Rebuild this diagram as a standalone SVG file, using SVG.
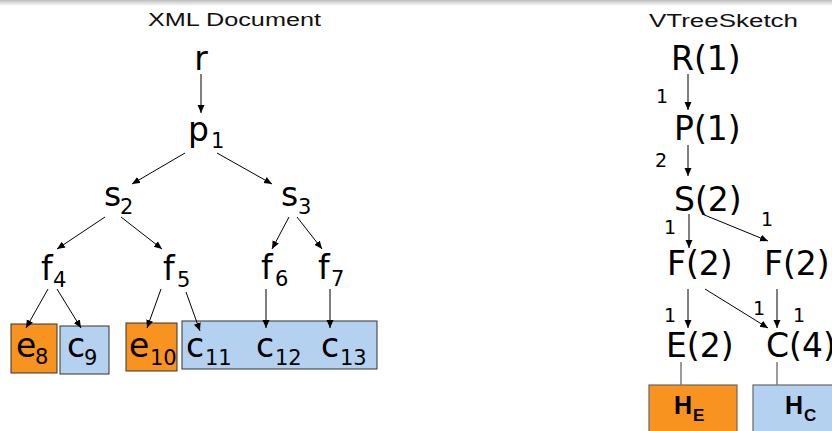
<svg xmlns="http://www.w3.org/2000/svg" width="832" height="431" viewBox="0 0 832 431">
<defs>
<linearGradient id="topShade" x1="0" y1="0" x2="0" y2="1">
<stop offset="0" stop-color="#bdbdbd"/>
<stop offset="1" stop-color="#ffffff"/>
</linearGradient>
<marker id="arr" markerUnits="userSpaceOnUse" markerWidth="9" markerHeight="8" refX="8" refY="3.5" orient="auto">
<path d="M0,0 L8,3.5 L0,7 z" fill="#000"/>
</marker>
</defs>
<style>
.title{font-family:"Liberation Sans",Arial,sans-serif;font-size:18px;fill:#111}
.n{font-family:"DejaVu Sans",Verdana,sans-serif;font-size:33px;fill:#000}
.s{font-family:"DejaVu Sans",Verdana,sans-serif;font-size:21px;fill:#000}
.lbl{font-family:"DejaVu Sans",Verdana,sans-serif;font-size:19px;fill:#000}
.h{font-family:"Liberation Sans",Arial,sans-serif;font-weight:bold;font-size:25px;fill:#000}
.hs{font-family:"Liberation Sans",Arial,sans-serif;font-weight:bold;font-size:17px;fill:#000}
.e{stroke:#000;stroke-width:1;fill:none;marker-end:url(#arr)}
.g{stroke:#7a7a7a;stroke-width:1.5;fill:none}
.or{fill:#f7931e;stroke:#333;stroke-width:1}
.bl{fill:#b4d2f0;stroke:#333;stroke-width:1}
.or2{fill:#f7931e;stroke:#666;stroke-width:1.2}
.bl2{fill:#b4d2f0;stroke:#666;stroke-width:1.2}
</style>
<rect x="0" y="0" width="832" height="431" fill="#fff"/>
<rect x="0" y="0" width="832" height="6" fill="url(#topShade)"/>

<text class="title" x="148" y="26" textLength="173" lengthAdjust="spacingAndGlyphs">XML Document</text>
<text class="title" x="649" y="27" textLength="149" lengthAdjust="spacingAndGlyphs">VTreeSketch</text>

<g id="r"><text class="n" x="201" y="70" text-anchor="middle">r</text></g>
<g id="p1"><text class="n" x="188" y="141">p</text><text class="s" x="211" y="148">1</text></g>
<g id="s2"><text class="n" x="104" y="206">s</text><text class="s" x="120" y="214">2</text></g>
<g id="s3"><text class="n" x="281" y="206">s</text><text class="s" x="298" y="214">3</text></g>
<g id="f4"><text class="n" x="41" y="280">f</text><text class="s" x="53" y="287">4</text></g>
<g id="f5"><text class="n" x="163" y="280">f</text><text class="s" x="177" y="287">5</text></g>
<g id="f6"><text class="n" x="261" y="279">f</text><text class="s" x="275" y="286">6</text></g>
<g id="f7"><text class="n" x="318" y="279">f</text><text class="s" x="331" y="286">7</text></g>

<g id="e8"><rect class="or" x="11" y="324" width="46" height="49"/><text class="n" x="16" y="357">e</text><text class="s" x="35" y="364">8</text></g>
<g id="c9"><rect class="bl" x="60" y="326" width="49" height="48"/><text class="n" x="67" y="357">c</text><text class="s" x="84" y="365">9</text></g>
<g id="e10"><rect class="or" x="126" y="323" width="51" height="48"/><text class="n" x="129" y="357">e</text><text class="s" x="150" y="365">10</text></g>
<g id="c11-13"><rect class="bl" x="182" y="321" width="195" height="48"/>
<text class="n" x="186" y="357">c</text><text class="s" x="205" y="365">11</text>
<text class="n" x="256" y="357">c</text><text class="s" x="275" y="365">12</text>
<text class="n" x="321" y="357">c</text><text class="s" x="340" y="365">13</text></g>

<g id="R"><text class="n" x="671" y="70">R(1)</text></g>
<g id="P"><text class="n" x="674" y="140">P(1)</text></g>
<g id="S"><text class="n" x="674" y="211">S(2)</text></g>
<g id="F1"><text class="n" x="667" y="275">F(2)</text></g>
<g id="F2"><text class="n" x="764" y="275">F(2)</text></g>
<g id="E"><text class="n" x="666" y="357">E(2)</text></g>
<g id="C"><text class="n" x="766" y="357">C(4)</text></g>
<g id="HE"><rect class="or2" x="649" y="385" width="88" height="60"/><text class="h" x="674" y="414">H</text><text class="hs" x="693" y="421">E</text></g>
<g id="HC"><rect class="bl2" x="753" y="385" width="90" height="60"/><text class="h" x="785" y="414">H</text><text class="hs" x="804" y="421">C</text></g>

<g id="connectors">
<line class="e" x1="201" y1="74" x2="201" y2="113"/>
<line class="e" x1="185" y1="153" x2="132" y2="184"/>
<line class="e" x1="217" y1="153" x2="272" y2="184"/>
<line class="e" x1="105" y1="217" x2="57" y2="249"/>
<line class="e" x1="121" y1="217" x2="162" y2="249"/>
<line class="e" x1="289" y1="217" x2="272" y2="249"/>
<line class="e" x1="297" y1="217" x2="322" y2="249"/>
<line class="e" x1="48" y1="289" x2="26" y2="328"/>
<line class="e" x1="57" y1="289" x2="81" y2="328"/>
<line class="e" x1="161" y1="289" x2="147" y2="328"/>
<line class="e" x1="186" y1="292" x2="200" y2="331"/>
<line class="e" x1="266" y1="289" x2="266" y2="328"/>
<line class="e" x1="330" y1="289" x2="330" y2="328"/>

<line class="e" x1="688" y1="74" x2="688" y2="110"/>
<line class="e" x1="688" y1="145" x2="688" y2="176"/>
<line class="e" x1="689" y1="214" x2="689" y2="248"/>
<line class="e" x1="702" y1="214" x2="768" y2="241"/>
<line class="e" x1="688" y1="289" x2="688" y2="328"/>
<line class="e" x1="705" y1="289" x2="768" y2="328"/>
<line class="e" x1="777" y1="289" x2="777" y2="328"/>
<line class="g" x1="681" y1="362" x2="681" y2="385"/>
<line class="g" x1="777" y1="362" x2="777" y2="385"/>

<text class="lbl" x="656" y="103">1</text>
<text class="lbl" x="655" y="167">2</text>
<text class="lbl" x="664" y="234">1</text>
<text class="lbl" x="761" y="226">1</text>
<text class="lbl" x="664" y="322">1</text>
<text class="lbl" x="753" y="315">1</text>
<text class="lbl" x="793" y="322">1</text>
</g>
</svg>
